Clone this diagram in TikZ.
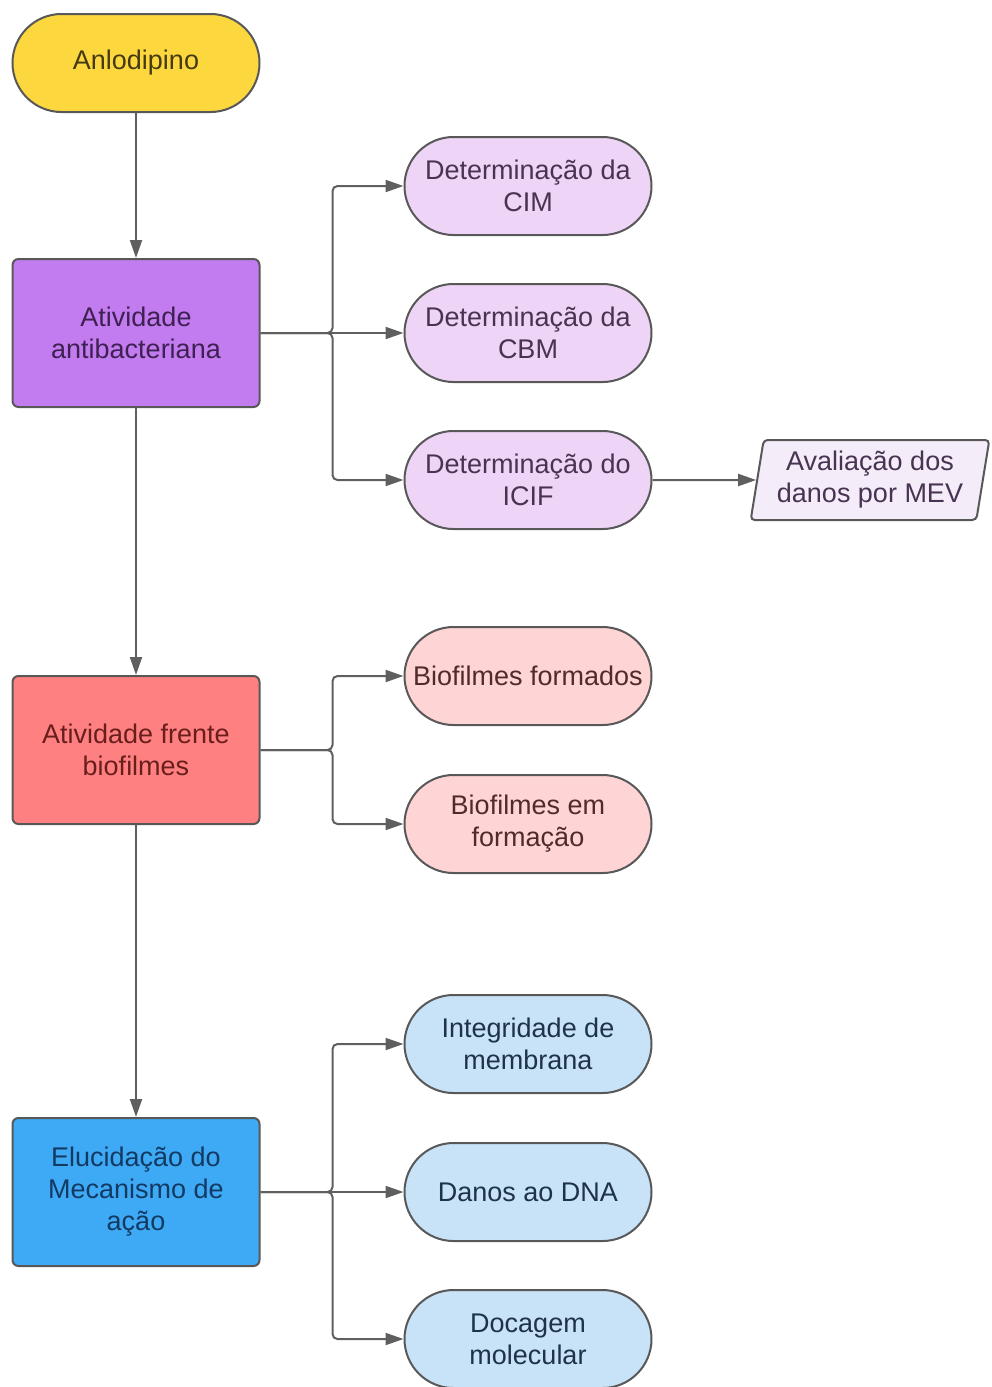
\documentclass[tikz,border=0pt]{standalone}
\usepackage{fontspec}
\setmainfont{Liberation Sans}
\usepackage{xcolor}
\usetikzlibrary{arrows.meta}
\usetikzlibrary{positioning}
\usetikzlibrary{shapes.geometric}

\definecolor{borda}{RGB}{88,88,88}
\definecolor{linha}{RGB}{95,95,95}
\definecolor{amarelo}{RGB}{252,216,62}
\definecolor{txtamarelo}{RGB}{70,58,18}
\definecolor{roxo}{RGB}{194,124,240}
\definecolor{txtroxo}{RGB}{62,32,82}
\definecolor{lilas}{RGB}{238,212,246}
\definecolor{lilasclaro}{RGB}{244,236,248}
\definecolor{txtlilas}{RGB}{72,52,82}
\definecolor{vermelho}{RGB}{255,128,128}
\definecolor{txtvermelho}{RGB}{105,30,30}
\definecolor{rosa}{RGB}{255,212,212}
\definecolor{txtrosa}{RGB}{82,42,42}
\definecolor{azul}{RGB}{62,170,245}
\definecolor{txtazul}{RGB}{18,58,98}
\definecolor{azulclaro}{RGB}{200,226,247}
\definecolor{txtazulclaro}{RGB}{30,50,72}

\begin{document}
\begin{tikzpicture}[>={Triangle[length=18pt,width=12pt]}, node distance=270pt,
		font=\fontsize{27}{32}\selectfont,
		caixa/.style={draw=borda, line width=2pt, rounded corners=6pt, minimum width=247pt, minimum height=148pt, align=center, inner sep=3pt},
		pilula/.style={draw=borda, line width=2pt, rounded corners=49pt, minimum width=247pt, minimum height=98pt, align=center, inner sep=3pt},
		seta/.style={->, draw=linha, line width=2pt, rounded corners=5pt}]
		\useasboundingbox (0,0) rectangle (991pt,-1387pt);
		\node (anlo) [pilula, fill=amarelo, text=txtamarelo] at (136pt,-63pt) {Anlodipino};
		\node (anti) [caixa, fill=roxo, text=txtroxo, below of=anlo] {Atividade\\antibacteriana};
		\node (bio) [caixa, fill=vermelho, text=txtvermelho, below of=anti, node distance=417pt] {Atividade frente\\biofilmes};
		\node (meca) [caixa, fill=azul, text=txtazul, below of=bio, node distance=442pt] {Elucidação do\\Mecanismo de\\ação};
		% ensaios antibacterianos
		\node (cbm) [pilula, fill=lilas, text=txtlilas, right of=anti, node distance=392pt] {Determinação da\\CBM};
		\node (cim) [pilula, fill=lilas, text=txtlilas, above of=cbm, node distance=147pt] {Determinação da\\CIM};
		\node (icif) [pilula, fill=lilas, text=txtlilas, below of=cbm, node distance=147pt] {Determinação do\\ICIF};
		\node (mev) [trapezium, trapezium left angle=79, trapezium right angle=101, trapezium stretches=true, draw=borda, line width=2pt, rounded corners=4pt, fill=lilasclaro, text=txtlilas, minimum width=239pt, minimum height=80pt, align=center, inner sep=1pt, right of=icif, node distance=342pt] {Avaliação dos\\danos por MEV};
		% biofilmes
		\node (form) [pilula, fill=rosa, text=txtrosa, right of=bio, node distance=392pt, yshift=74pt] {Biofilmes formados};
		\node (emform) [pilula, fill=rosa, text=txtrosa, below of=form, node distance=148pt] {Biofilmes em\\formação};
		% mecanismo
		\node (dna) [pilula, fill=azulclaro, text=txtazulclaro, right of=meca, node distance=392pt] {Danos ao DNA};
		\node (integ) [pilula, fill=azulclaro, text=txtazulclaro, above of=dna, node distance=148pt] {Integridade de\\membrana};
		\node (doca) [pilula, fill=azulclaro, text=txtazulclaro, below of=dna, node distance=147pt] {Docagem\\molecular};

		\draw[seta] (anlo) -- (anti);
		\draw[seta] (anti) -- (bio);
		\draw[seta] (bio) -- (meca);
		\draw[seta] (anti.east) -- ++(72pt,0) |- (cim.west);
		\draw[seta] (anti.east) -- (cbm.west);
		\draw[seta] (anti.east) -- ++(72pt,0) |- (icif.west);
		\draw[seta] (icif) -- (mev);
		\draw[seta] (bio.east) -- ++(72pt,0) |- (form.west);
		\draw[seta] (bio.east) -- ++(72pt,0) |- (emform.west);
		\draw[seta] (meca.east) -- ++(72pt,0) |- (integ.west);
		\draw[seta] (meca.east) -- (dna.west);
		\draw[seta] (meca.east) -- ++(72pt,0) |- (doca.west);
	\end{tikzpicture}
\end{document}
